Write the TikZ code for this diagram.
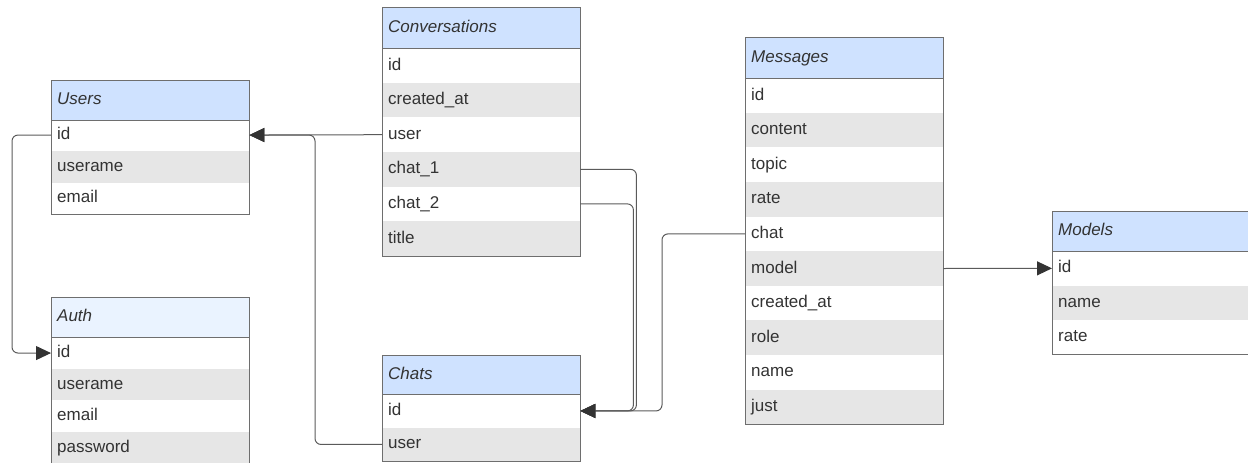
\documentclass[tikz,border=0pt]{standalone}
\usepackage{fontspec}
\setmainfont{Liberation Sans}
\usepackage{xcolor}
\usepackage{tikz}
\usetikzlibrary{positioning}
\usetikzlibrary{arrows.meta}

\definecolor{headblue}{HTML}{CFE2FF}
\definecolor{headpale}{HTML}{EAF3FF}
\definecolor{rowgray}{HTML}{E6E6E6}
\definecolor{framegray}{HTML}{6E6E6E}
\definecolor{linegray}{HTML}{5A5A5A}
\definecolor{inkgray}{HTML}{333333}

\begin{document}
\begin{tikzpicture}[x=1pt, y=-1pt,
    font=\fontsize{17}{20}\selectfont, text=inkgray,
    row/.style={anchor=north west, text width=186pt, inner xsep=6pt, inner ysep=0pt, text height=12.5pt, text depth=3.5pt, minimum height=34.6pt},
    srow/.style={row, minimum height=31.7pt},
    hdr/.style={row, fill=headblue, draw=framegray, minimum height=40pt, font=\fontsize{17}{20}\selectfont\itshape},
    frame/.style={draw=framegray, line width=1pt},
    conn/.style={draw=linegray, line width=1pt, rounded corners=6pt, -{Triangle[length=15pt, width=14pt, color=inkgray]}}]

\useasboundingbox (0,0) rectangle (1248,463);

% users, auth

\node [hdr] at (51, 80) (users-h) {Users};
\node [srow] at (51, 119) (users-id) {id};
\node [srow, fill=rowgray] at (51, 150.7) (users-name) {userame};
\node [srow] at (51, 182.4) (users-email) {email};
\draw [frame] (users-h.north west) rectangle (users-email.south east);

\node [hdr, fill=headpale] at (51, 297) (auth-h) {Auth};
\node [srow] at (51, 337) (auth-id) {id};
\node [srow, fill=rowgray] at (51, 368.5) (auth-name) {userame};
\node [srow] at (51, 400) (auth-email) {email};
\node [srow, fill=rowgray] at (51, 431.5) (auth-pass) {password};
\draw [frame] (auth-h.north west) rectangle (auth-pass.south east);

% conversations, chats

\node [hdr, minimum height=41pt] at (382, 7) (conv-h) {Conversations};
\node [row] at (382, 48) (conv-id) {id};
\node [row, fill=rowgray] at (382, 82.6) (conv-created) {created\_at};
\node [row] at (382, 117.2) (conv-user) {user};
\node [row, fill=rowgray] at (382, 151.8) (conv-chat1) {chat\_1};
\node [row] at (382, 186.4) (conv-chat2) {chat\_2};
\node [row, fill=rowgray] at (382, 221) (conv-title) {title};
\draw [frame] (conv-h.north west) rectangle (conv-title.south east);

\node [hdr, minimum height=39pt] at (382, 355) (chats-h) {Chats};
\node [row, minimum height=33.5pt] at (382, 394) (chats-id) {id};
\node [row, minimum height=33.5pt, fill=rowgray] at (382, 427.5) (chats-user) {user};
\draw [frame] (chats-h.north west) rectangle (chats-user.south east);

% messages, models

\node [hdr, minimum height=41pt] at (745, 37) (msg-h) {Messages};
\node [row] at (745, 78) (msg-id) {id};
\node [row, fill=rowgray] at (745, 112.6) (msg-content) {content};
\node [row] at (745, 147.2) (msg-topic) {topic};
\node [row, fill=rowgray] at (745, 181.8) (msg-rate) {rate};
\node [row] at (745, 216.4) (msg-chat) {chat};
\node [row, fill=rowgray] at (745, 251) (msg-model) {model};
\node [row] at (745, 285.6) (msg-created) {created\_at};
\node [row, fill=rowgray] at (745, 320.2) (msg-role) {role};
\node [row] at (745, 354.8) (msg-name) {name};
\node [row, fill=rowgray] at (745, 389.4) (msg-just) {just};
\draw [frame] (msg-h.north west) rectangle (msg-just.south east);

\node [hdr] at (1052, 211) (models-h) {Models};
\node [row, minimum height=34.3pt] at (1052, 251) (models-id) {id};
\node [row, minimum height=34.3pt, fill=rowgray] at (1052, 285.3) (models-name) {name};
\node [row, minimum height=34.3pt] at (1052, 319.6) (models-rate) {rate};
\draw [frame] (models-h.north west) rectangle (models-rate.south east);

% links

\path [conn] (conv-user.west) to (users-id.east);
\path [conn] (chats-user.west) -- ++(-67, 0) |- (users-id.east);
\path [conn] (users-id.west) -- ++(-39, 0) |- (auth-id.west);
\path [conn] (conv-chat1.east) -- ++(56, 0) |- (chats-id.east);
\path [conn] (conv-chat2.east) -- ++(53, 0) |- (chats-id.east);
\path [conn] (msg-chat.west) -- ++(-83, 0) |- (chats-id.east);
\path [conn] (msg-model.east) to (models-id.west);

\end{tikzpicture}
\end{document}
